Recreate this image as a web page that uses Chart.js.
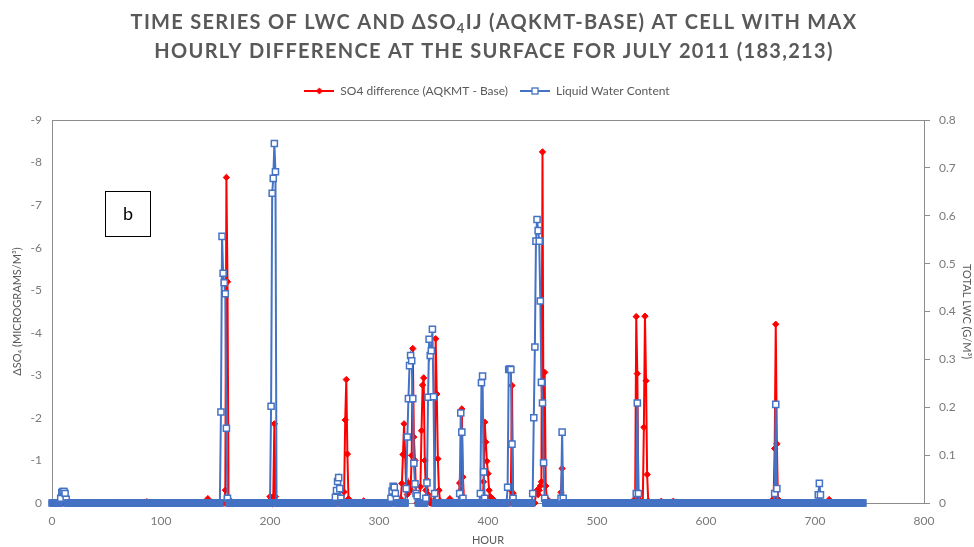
<!DOCTYPE html>
<html>
<head>
<meta charset="utf-8">
<script src="https://cdn.jsdelivr.net/npm/chart.js@4.4.1/dist/chart.umd.min.js"></script>
<style>
  html, body { margin: 0; padding: 0; background: #ffffff; }
  canvas { display: block; }
</style>
</head>
<body>
<canvas id="chart" width="974" height="547"></canvas>
<script>
// Hourly record for July 2011 at grid cell (183,213)
const FIRST_HOUR = 0;
const LAST_HOUR = 744;

// Sulfate difference AQKMT - Base (micrograms/m3); hours not listed are 0
const so4Hours = [
  87, 143,
  159, 160, 161, 162,
  200, 201, 203, 204, 205,
  268, 269, 270, 271, 272, 286,
  320, 321, 322, 323, 324, 325, 326, 327, 328, 329, 330, 331, 332, 333, 334,
  338, 339, 340, 341, 342, 343, 344, 345, 346, 351, 352, 353, 354, 355, 356, 365,
  374, 375, 376, 377, 378,
  396, 397, 398, 399, 400, 401, 402, 403, 404, 405, 406,
  421, 422, 423, 424,
  444, 445, 446, 447, 448, 449, 450, 451, 452, 453, 454,
  467, 468, 469,
  535, 536, 537, 538, 543, 544, 545, 546, 547, 559, 570,
  662, 663, 664, 665, 666, 713
];
const so4Values = [
  -0.03, -0.1,
  -0.3, -7.65, -5.2, -0.1,
  -0.15, -0.12, -0.15, -1.86, -0.15,
  -0.26, -1.95, -2.9, -1.15, -0.1, -0.05,
  -0.1, -0.46, -1.14, -1.86, -1.12, -0.3, -0.2, -0.47, -0.35, -0.3, -1.12, -3.63, -1.55, -1.0, -0.2,
  -0.38, -1.7, -2.77, -2.94, -1.0, -0.3, -0.54, -0.2, -0.1, -0.2, -3.86, -2.56, -1.04, -0.3, -0.05, -0.1,
  -0.47, -0.3, -2.21, -0.61, -0.05,
  -0.5, -1.9, -1.43, -0.98, -0.69, -0.3, -0.15, -0.12, -0.1, -0.08, -0.05,
  -0.3, -2.76, -0.23, -0.05,
  -0.25, -0.3, -0.2, -0.3, -0.4, -0.5, -8.25, -0.9, -3.07, -0.4, -0.1,
  -0.25, -0.81, -0.05,
  -0.1, -4.38, -3.04, -0.1, -1.78, -4.39, -2.87, -0.67, -0.05, -0.04, -0.04,
  -0.1, -1.28, -4.2, -1.39, -0.09, -0.08
];

// Total liquid water content (g/m3); hours not listed are 0
const lwcHours = [
  8, 9, 10, 11, 12, 13,
  155, 156, 157, 158, 159, 160, 161,
  201, 202, 203, 204, 205,
  260, 261, 262, 263, 264, 265,
  311, 312, 313, 314, 315, 316,
  325, 326, 327, 328, 329, 330, 331, 332, 333, 334, 335,
  343, 344, 345, 346, 347, 348, 349, 350, 351,
  374, 375, 376, 377,
  393, 394, 395, 396, 397,
  418, 419, 420, 421, 422, 423,
  441, 442, 443, 444, 445, 446, 447, 448, 449, 450, 451, 452,
  467, 468, 469,
  536, 537, 538,
  663, 664, 665,
  703, 704, 705
];
const lwcValues = [
  0.01, 0.022, 0.024, 0.024, 0.02, 0.008,
  0.19, 0.557, 0.48, 0.46, 0.437, 0.156, 0.01,
  0.202, 0.647, 0.678, 0.751, 0.692,
  0.012, 0.026, 0.045, 0.053, 0.03, 0.01,
  0.01, 0.025, 0.035, 0.033, 0.02, 0.008,
  0.03, 0.138, 0.218, 0.287, 0.308, 0.297, 0.218, 0.083, 0.04, 0.02, 0.015,
  0.01, 0.042, 0.221, 0.342, 0.308, 0.318, 0.363, 0.222, 0.02,
  0.02, 0.188, 0.148, 0.01,
  0.02, 0.251, 0.265, 0.065, 0.01,
  0.033, 0.279, 0.28, 0.279, 0.123, 0.01,
  0.02, 0.178, 0.326, 0.547, 0.592, 0.569, 0.547, 0.422, 0.252, 0.209, 0.084, 0.01,
  0.01, 0.148, 0.01,
  0.02, 0.209, 0.02,
  0.02, 0.206, 0.03,
  0.017, 0.041, 0.017
];

// Axis ranges
const hourAxis = { min: 0, max: 800, step: 100 };
const so4Axis = { min: -9, max: 0, step: 1 };
const lwcAxis = { min: 0, max: 0.8, step: 0.1 };

const titleLines = [
  ['TIME SERIES OF LWC AND \u0394SO', '4', 'IJ (AQKMT-BASE) AT CELL WITH MAX'],
  ['HOURLY DIFFERENCE AT THE SURFACE FOR JULY 2011 (183,213)']
];
const seriesNames = ['SO4 difference (AQKMT - Base)', 'Liquid Water Content'];
const panelLetter = 'b';

const RED = '#ff0000';
const BLUE = '#4472c4';
const GREY_TEXT = '#595959';
const GREY_TICK = '#7a7a7a';
const GREY_LINE = '#8c8c8c';
const FONT = 'Lato, "Open Sans", sans-serif';

function fullSeries(hours, values) {
  const byHour = new Map(hours.map((h, i) => [h, values[i]]));
  const out = [];
  for (let h = FIRST_HOUR; h <= LAST_HOUR; h++) {
    out.push({ x: h, y: byHour.has(h) ? byHour.get(h) : 0 });
  }
  return out;
}

// Small line-with-marker swatches for the legend
function legendSwatch(color, marker) {
  const c = document.createElement('canvas');
  c.width = 30; c.height = 10;
  const g = c.getContext('2d');
  g.strokeStyle = color; g.lineWidth = 2;
  g.beginPath(); g.moveTo(0, 5); g.lineTo(30, 5); g.stroke();
  if (marker === 'diamond') {
    g.fillStyle = color;
    g.beginPath(); g.moveTo(15, 1.5); g.lineTo(18.5, 5); g.lineTo(15, 8.5); g.lineTo(11.5, 5); g.closePath(); g.fill();
  } else {
    g.fillStyle = '#ffffff'; g.lineWidth = 1.3;
    g.fillRect(12, 2, 6, 6); g.strokeRect(12, 2, 6, 6);
  }
  return c;
}
const swatches = [legendSwatch(RED, 'diamond'), legendSwatch(BLUE, 'square')];

// Title with subscript, drawn above the legend
const titlePlugin = {
  id: 'titleText',
  afterDraw(chart) {
    const ctx = chart.ctx;
    ctx.save();
    ctx.fillStyle = GREY_TEXT;
    ctx.textBaseline = 'alphabetic';
    ctx.letterSpacing = '1.3px';
    const big = 'bold 20px ' + FONT;
    const small = 'bold 13px ' + FONT;
    const baselines = [29, 58];
    titleLines.forEach((parts, li) => {
      const widths = parts.map((p, i) => { ctx.font = (i === 1 ? small : big); return ctx.measureText(p).width; });
      const total = widths.reduce((a, b) => a + b, 0);
      let x = 494 - total / 2;
      parts.forEach((p, i) => {
        ctx.font = (i === 1 ? small : big);
        ctx.fillText(p, x, baselines[li] + (i === 1 ? 4 : 0));
        x += widths[i];
      });
    });
    ctx.restore();
  }
};

// Frame across the top of the plot area and the "b" panel label
const framePlugin = {
  id: 'frame',
  beforeDatasetsDraw(chart) {
    const { ctx, chartArea: a } = chart;
    ctx.save();
    ctx.strokeStyle = GREY_LINE; ctx.lineWidth = 1;
    ctx.beginPath(); ctx.moveTo(a.left, a.top + 0.5); ctx.lineTo(a.right, a.top + 0.5); ctx.stroke();
    ctx.restore();
  },
  afterDraw(chart) {
    const ctx = chart.ctx;
    ctx.save();
    ctx.fillStyle = '#ffffff'; ctx.strokeStyle = '#000000'; ctx.lineWidth = 1;
    ctx.fillRect(105, 191, 45, 45);
    ctx.strokeRect(105.5, 191.5, 45, 45);
    ctx.fillStyle = '#000000';
    ctx.font = '18px ' + FONT;
    ctx.textAlign = 'center'; ctx.textBaseline = 'middle';
    ctx.fillText(panelLetter, 128, 214);
    ctx.restore();
  }
};

// Legend box gets extra room below it
const legendSpacer = {
  id: 'legendSpacer',
  afterInit(chart) {
    const legend = chart.legend;
    const fit = legend.fit;
    legend.fit = function () { fit.call(this); this.height += 13; };
  }
};

const chart = new Chart(document.getElementById('chart'), {
  type: 'line',
  data: {
    datasets: [
      {
        label: seriesNames[0],
        data: fullSeries(so4Hours, so4Values),
        yAxisID: 'y',
        borderColor: RED, backgroundColor: RED,
        borderWidth: 2,
        pointStyle: 'rectRot', pointRadius: 3.2, pointBorderWidth: 1,
        pointBackgroundColor: RED, pointBorderColor: RED,
        tension: 0, clip: false, order: 2
      },
      {
        label: seriesNames[1],
        data: fullSeries(lwcHours, lwcValues),
        yAxisID: 'y1',
        borderColor: BLUE, backgroundColor: '#ffffff',
        borderWidth: 2,
        pointStyle: 'rect', pointRadius: 4.3, pointBorderWidth: 1.5,
        // markers packed along the zero line merge into a solid band
        pointBackgroundColor: (c) => (c.raw && c.raw.y === 0 ? BLUE : '#ffffff'),
        pointBorderColor: BLUE,
        tension: 0, clip: false, order: 1
      }
    ]
  },
  options: {
    responsive: false,
    animation: false,
    events: [],
    layout: { padding: { top: 73, left: 0, right: 0, bottom: 0 } },
    plugins: {
      title: { display: false },
      tooltip: { enabled: false },
      legend: {
        display: true,
        position: 'top',
        labels: {
          usePointStyle: true,
          pointStyleWidth: 30,
          padding: 12,
          color: GREY_TEXT,
          font: { family: FONT, size: 12 },
          sort: (a, b) => a.datasetIndex - b.datasetIndex,
          generateLabels(chart) {
            return chart.data.datasets.map((ds, i) => ({
              text: ds.label,
              datasetIndex: i,
              pointStyle: swatches[i],
              fillStyle: ds.borderColor,
              strokeStyle: ds.borderColor,
              lineWidth: 0,
              fontColor: GREY_TEXT,
              hidden: false
            }));
          }
        }
      }
    },
    scales: {
      x: {
        type: 'linear',
        position: 'bottom',
        min: hourAxis.min, max: hourAxis.max,
        ticks: { stepSize: hourAxis.step, color: GREY_TICK, font: { family: FONT, size: 12 }, padding: 11, maxRotation: 0 },
        grid: { display: false, drawTicks: false },
        border: { display: true, color: GREY_LINE, width: 1 },
        title: { display: true, text: 'HOUR', color: GREY_TEXT, font: { family: FONT, size: 11 }, padding: { top: 0, bottom: 0 } },
        afterFit(scale) { scale.height = 44; }
      },
      y: {
        type: 'linear',
        position: 'left',
        min: so4Axis.min, max: so4Axis.max, reverse: true,
        ticks: { stepSize: so4Axis.step, color: GREY_TICK, font: { family: FONT, size: 12 }, padding: 10 },
        grid: { display: false, drawTicks: false },
        border: { display: true, color: GREY_LINE, width: 1 },
        title: { display: true, text: '\u0394SO\u2084 (MICROGRAMS/M\u00b3)', color: GREY_TEXT, font: { family: FONT, size: 11 }, padding: { top: 11, bottom: 0 } },
        afterFit(scale) { scale.width = 52; }
      },
      y1: {
        type: 'linear',
        position: 'right',
        min: lwcAxis.min, max: lwcAxis.max,
        ticks: { stepSize: lwcAxis.step, color: GREY_TICK, font: { family: FONT, size: 12 }, padding: 9 },
        grid: { display: true, drawOnChartArea: false, drawTicks: true, tickLength: 6, color: GREY_LINE },
        border: { display: true, color: GREY_LINE, width: 1 },
        title: { display: true, text: 'TOTAL LWC (G/M\u00b3)', color: GREY_TEXT, font: { family: FONT, size: 11 }, padding: { top: 1, bottom: 0 } },
        afterFit(scale) { scale.width = 50; }
      }
    }
  },
  plugins: [legendSpacer, framePlugin, titlePlugin]
});
</script>
</body>
</html>
